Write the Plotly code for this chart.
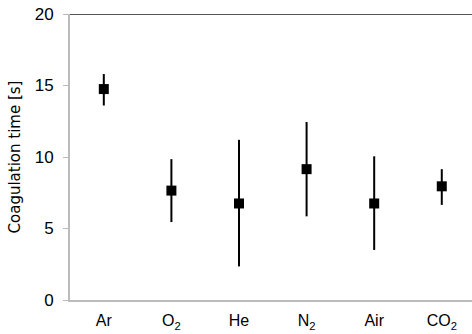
import plotly.graph_objects as go

gases = ["Ar", "O<sub>2</sub>", "He", "N<sub>2</sub>", "Air", "CO<sub>2</sub>"]
mean_time = [14.75, 7.65, 6.75, 9.15, 6.75, 7.95]
err_plus = [1.05, 2.2, 4.45, 3.3, 3.3, 1.2]
err_minus = [1.15, 2.2, 4.4, 3.3, 3.25, 1.3]
y_ticks = [0, 5, 10, 15, 20]

fig = go.Figure()
fig.add_trace(go.Scatter(
    x=list(range(len(gases))), y=mean_time, mode="markers",
    marker=dict(symbol="square", size=10, color="black"),
    error_y=dict(type="data", symmetric=False, array=err_plus, arrayminus=err_minus,
                 color="black", thickness=2, width=0),
    showlegend=False,
))
fig.add_shape(type="line", xref="paper", yref="y", x0=0, x1=1, y0=20, y1=20,
              line=dict(color="#555555", width=2))

fig.update_layout(
    width=472, height=334,
    margin=dict(l=70, r=0, t=14, b=34),
    paper_bgcolor="white", plot_bgcolor="white",
    font=dict(family="Liberation Sans, Arial, sans-serif", color="black"),
    xaxis=dict(range=[-0.5, 5.447], tickvals=list(range(len(gases))), ticktext=gases,
               showgrid=False, zeroline=False, showline=True, linecolor="#bbbbbb",
               linewidth=2, ticks="", tickfont=dict(size=16), ticklabelstandoff=5,
               automargin=False),
    yaxis=dict(range=[0, 20], tickvals=y_ticks, showgrid=False, zeroline=False,
               showline=True, linecolor="#bbbbbb", linewidth=2, ticks="outside",
               ticklen=5, tickcolor="#bbbbbb", tickfont=dict(size=17),
               ticklabelstandoff=6,
               title=dict(text="Coagulation time [s]",
                          font=dict(size=15, family="DejaVu Sans, sans-serif"),
                          standoff=10),
               automargin=False),
)
fig.write_html("out.html", config={"displayModeBar": False},
               post_script="document.body.style.margin='0px';")
